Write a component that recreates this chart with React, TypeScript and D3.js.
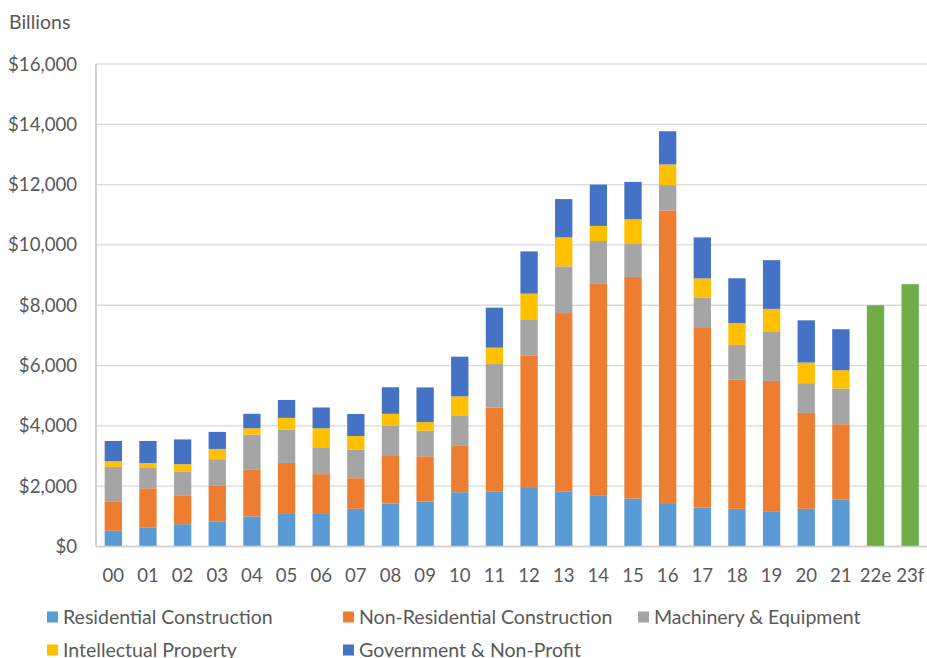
import * as d3 from "d3";

const years = ["00", "01", "02", "03", "04", "05", "06", "07", "08", "09", "10", "11", "12", "13", "14", "15", "16", "17", "18", "19", "20", "21"];
const forecastYears = ["22e", "23f"];

// billions
const residential = [520, 620, 740, 820, 1000, 1080, 1080, 1250, 1430, 1490, 1800, 1830, 1970, 1830, 1680, 1590, 1410, 1290, 1250, 1170, 1250, 1560];
const nonResidential = [980, 1310, 960, 1190, 1560, 1690, 1320, 1015, 1600, 1500, 1535, 2775, 4370, 5910, 7050, 7350, 9735, 5955, 4290, 4320, 3180, 2495];
const machinery = [1140, 675, 775, 885, 1150, 1110, 890, 950, 985, 850, 1015, 1445, 1195, 1550, 1400, 1115, 840, 1005, 1145, 1625, 985, 1185];
const intellectual = [190, 165, 255, 340, 210, 385, 630, 450, 385, 285, 630, 545, 850, 960, 500, 795, 685, 640, 720, 765, 685, 605];
const government = [670, 730, 820, 565, 480, 595, 690, 730, 880, 1150, 1315, 1325, 1400, 1270, 1370, 1240, 1100, 1360, 1490, 1615, 1400, 1360];
const forecast = [8000, 8700];

const yTicks = [0, 2000, 4000, 6000, 8000, 10000, 12000, 14000, 16000];

const series = [
  { key: "res", label: "Residential Construction", color: "#5B9BD5", values: residential },
  { key: "nonres", label: "Non-Residential Construction", color: "#ED7D31", values: nonResidential },
  { key: "mach", label: "Machinery & Equipment", color: "#A5A5A5", values: machinery },
  { key: "ip", label: "Intellectual Property", color: "#FFC000", values: intellectual },
  { key: "gov", label: "Government & Non-Profit", color: "#4472C4", values: government },
];

const W = 927;
const H = 658;
const font = "Lato, 'Open Sans', sans-serif";
const textColor = "#595959";

export default function App() {
  const categories = [...years, ...forecastYears];

  const rows = years.map((yr, i) => {
    const r: Record<string, any> = { year: yr };
    series.forEach((s) => (r[s.key] = s.values[i]));
    return r;
  });

  const stacked = d3.stack().keys(series.map((s) => s.key))(rows as any);

  const x = d3
    .scaleBand()
    .domain(categories)
    .range([96, 927.5])
    .paddingInner(0.5)
    .paddingOuter(0.25);

  const y = d3.scaleLinear().domain([0, 16000]).range([546.5, 64]);

  const legendPos = [
    [47, 617],
    [343, 617],
    [638, 617],
    [47, 650],
    [343, 650],
  ];

  return (
    <svg
      width={W}
      height={H}
      style={{ position: "absolute", left: 0, top: 0, background: "#fff" }}
      fontFamily={font}
    >
      <text x={9} y={29} fontSize={19.5} fill={textColor}>
        Billions
      </text>

      {yTicks.map((t) => (
        <g key={t}>
          <line x1={96} x2={927} y1={y(t)} y2={y(t)} stroke="#D9D9D9" strokeWidth={1.3} />
          <text
            x={77}
            y={y(t)}
            dy="0.35em"
            textAnchor="end"
            fontSize={18.6}
            fill={textColor}
          >
            {d3.format("$,")(t)}
          </text>
        </g>
      ))}

      {stacked.map((layer, si) => (
        <g key={layer.key} fill={series[si].color}>
          {layer.map((d, i) => (
            <rect
              key={i}
              x={x(years[i])}
              width={x.bandwidth()}
              y={y(d[1])}
              height={y(d[0]) - y(d[1])}
            />
          ))}
        </g>
      ))}

      {forecastYears.map((yr, i) => (
        <rect
          key={yr}
          x={x(yr)}
          width={x.bandwidth()}
          y={y(forecast[i])}
          height={y(0) - y(forecast[i])}
          fill="#70AD47"
        />
      ))}

      <line x1={96} x2={96} y1={y(16000)} y2={y(0)} stroke="#BFBFBF" strokeWidth={1.3} />
      <line x1={96} x2={927} y1={y(0)} y2={y(0)} stroke="#D0D0D0" strokeWidth={1.5} />

      {categories.map((c) => (
        <text
          key={c}
          x={(x(c) ?? 0) + x.bandwidth() / 2}
          y={575}
          dy="0.35em"
          textAnchor="middle"
          fontSize={18.6}
          fill={textColor}
        >
          {c}
        </text>
      ))}

      {series.map((s, i) => (
        <g key={s.key} transform={`translate(${legendPos[i][0]},${legendPos[i][1]})`}>
          <rect x={0} y={-5.5} width={11} height={11} fill={s.color} />
          <text x={16} y={0} dy="0.35em" fontSize={19.5} fill={textColor}>
            {s.label}
          </text>
        </g>
      ))}
    </svg>
  );
}
